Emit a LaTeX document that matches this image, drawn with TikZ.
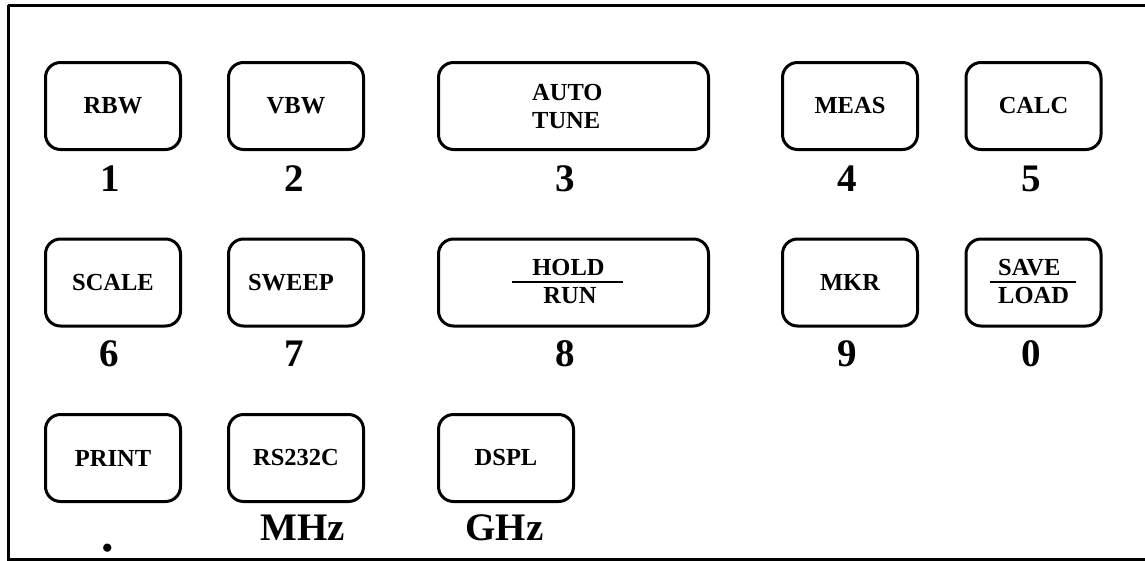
\documentclass[tikz,border=0pt]{standalone}
\usepackage{fontspec}
\setmainfont{Liberation Serif}
\begin{document}
\begin{tikzpicture}[x=1pt,y=-1pt,
  key/.style={draw, line width=3pt, rounded corners=15pt, minimum width=135pt, minimum height=87pt, inner sep=0pt, font=\fontsize{24.5}{28}\selectfont\bfseries},
  wkey/.style={key, minimum width=270pt},
  lbl/.style={inner sep=0pt, anchor=base, font=\fontsize{24.5}{28}\selectfont\bfseries},
  lblw/.style={lbl, anchor=base west},
  num/.style={inner sep=0pt, anchor=base, font=\fontsize{39}{44}\selectfont\bfseries},
  bar/.style={line width=2.4pt}]
\useasboundingbox (0,0) rectangle (1145,560);
% frame
\draw[line width=3pt] (8,5) -- (1146,5);
\draw[line width=3pt] (8,5) -- (8,559.5) -- (1146,559.5);
% row 1
\node[key]  (rbw)  at (113,106)   {RBW};
\node[key]  (vbw)  at (296,106)   {VBW};
\node[wkey] (auto) at (573.5,106) {};
\node[lblw] (autot) at (532,100)  {AUTO};
\node[lblw] (tunet) at (532,128)  {TUNE};
\node[key]  (meas) at (850,106)   {MEAS};
\node[key]  (calc) at (1033.5,106) {CALC};
\node[num] (n1) at (110,191)  {1};
\node[num] (n2) at (294,191)  {2};
\node[num] (n3) at (565,191)  {3};
\node[num] (n4) at (847,191)  {4};
\node[num] (n5) at (1031.5,191) {5};
% row 2
\node[key]  (scale) at (113,282.5)  {SCALE};
\node[key]  (sweep) at (296,282.5)  {SWEEP\kern10pt};
\node[wkey] (hold)  at (573.5,282.5) {};
\node[lbl]  (holdt) at (568.5,275) {HOLD};
\node[lbl]  (runt)  at (570,303)   {RUN};
\draw[bar] (512,282) -- (623,282);
\node[key]  (mkr)  at (850,282.5)   {MKR};
\node[key]  (save) at (1033.5,282.5) {};
\node[lblw] (savet) at (998,275) {SAVE};
\node[lblw] (loadt) at (998,303) {LOAD};
\draw[bar] (990,282) -- (1076,282);
\node[num] (n6) at (109,366)  {6};
\node[num] (n7) at (294,366)  {7};
\node[num] (n8) at (565,366)  {8};
\node[num] (n9) at (847.5,366) {9};
\node[num] (n0) at (1031.5,366) {0};
% row 3
\node[key] (print) at (113,458) {PRINT};
\node[key] (rs)    at (296,458) {RS232C};
\node[key] (dspl)  at (506,458) {DSPL};
\node[num, font=\fontsize{50}{55}\selectfont\bfseries] (dot) at (108,551) {.};
\node[num] (mhz) at (302.5,540) {MHz};
\node[num] (ghz) at (504.5,540) {GHz};
\end{tikzpicture}
\end{document}
